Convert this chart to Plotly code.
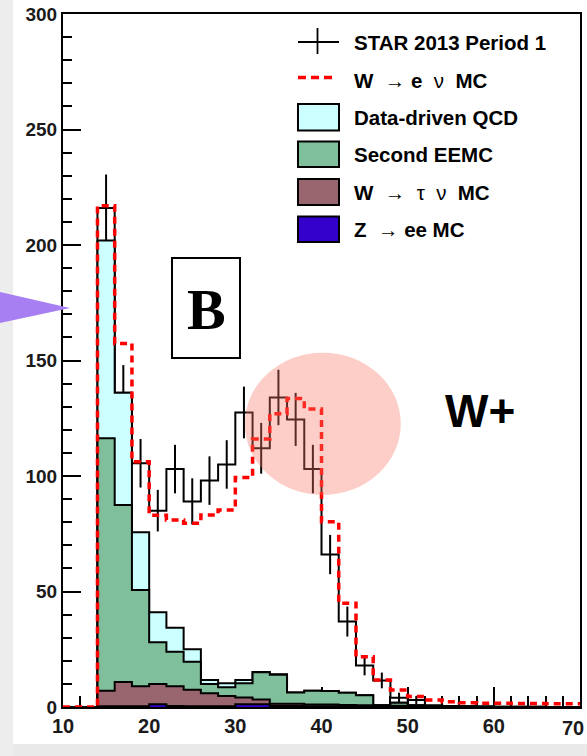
import numpy as np
import plotly.graph_objects as go

# ---------------- data (2 GeV bins from 10 to 70) ----------------
bin_edges = [10, 12, 14, 16, 18, 20, 22, 24, 26, 28, 30, 32, 34, 36, 38, 40,
             42, 44, 46, 48, 50, 52, 54, 56, 58, 60, 62, 64, 66, 68, 70]

star_data = [0, 0, 216, 136, 105.5, 85, 103, 89, 98, 105, 127.5, 112, 134, 124.5, 103,
             66, 37, 18, 11.5, 4, 3, 0, 0, 0, 0, 0, 0, 0, 0, 0]
star_err = [0, 0, 14.5, 12, 10.5, 9, 10.5, 10, 10.5, 10.5, 11.2, 11, 12, 11.5, 10.5,
            8.5, 6.5, 4.3, 3.4, 2.2, 1.8, 0, 0, 0, 0, 0, 0, 0, 0, 0]

wenu_mc = [0, 0, 217, 157.4, 106.2, 83, 81, 79.5, 83.1, 85.3, 99.3, 116, 127, 133.6, 129,
           80.2, 44.9, 21.8, 11.7, 7.4, 4.5, 3.0, 2.3, 1.8, 1.6, 1.6, 1.5, 1.5, 1.4, 1.4]

qcd = [0, 0, 85.7, 48.6, 25.0, 13.0, 10.4, 5.4, 1.7, 1.8, 1.4, 0.2, 0.2, 0, 0,
       0, 0, 0, 0, 0, 0, 0, 0, 0, 0, 0, 0, 0, 0, 0]
eemc = [0, 0, 109.3, 76.6, 41.6, 18.0, 14.9, 12.1, 4.1, 3.7, 6.2, 11.7, 12.6, 4.9, 5.9,
        5.8, 5.3, 4.3, 0.3, 1.3, 0.4, 0.3, 0.2, 0.2, 0.1, 0.1, 0.1, 0.1, 0, 0]
wtau = [0, 0, 6.7, 10.5, 8.7, 8.8, 8.6, 7.2, 5.6, 4.5, 2.9, 2.1, 1.0, 1.0, 0.8,
        0.8, 0.6, 0.5, 0.3, 0.3, 0.2, 0.2, 0.1, 0.1, 0.1, 0, 0, 0, 0, 0]
zee = [0, 0, 0.3, 0.3, 0.3, 1.2, 0.4, 0.3, 0.3, 0.3, 1.2, 1.2, 0.4, 0.4, 0.3,
       0.3, 0.3, 0.3, 0.2, 0.2, 0.2, 0.1, 0.1, 0, 0, 0, 0, 0, 0, 0]

x_tick_vals = [10, 20, 30, 40, 50, 60, 70]
x_tick_text = ["10", "20", "30", "40", "50", "60", ""]   # "70" placed as annotation below
x_last_label = "70"

legend_labels = ["STAR 2013 Period 1", "W → e ν MC", "Data-driven QCD",
                 "Second EEMC", "W → τ ν MC", "Z → ee MC"]

# ---------------- styling ----------------
C_QCD = "#ccffff"
C_EEMC = "#80bf9b"
C_TAU = "#996670"
C_Z = "#3300cc"
C_RED = "#ff0000"
FONT = "Liberation Sans"

edges = np.array(bin_edges, dtype=float)
centers = (edges[:-1] + edges[1:]) / 2


def step_y(vals):
    v = list(vals)
    return v + [v[-1]]


fig = go.Figure()

# data: step line + error bars (drawn first so the stack covers them)
fig.add_trace(go.Scatter(x=edges, y=step_y(star_data), mode="lines",
                         line=dict(color="black", width=2, shape="hv"),
                         showlegend=False, hoverinfo="skip"))
err_x = [c for c, d in zip(centers, star_data) if d > 0]
err_y = [d for d in star_data if d > 0]
err_e = [e for e, d in zip(star_err, star_data) if d > 0]
fig.add_trace(go.Scatter(x=err_x, y=err_y, mode="markers",
                         marker=dict(size=1, color="rgba(0,0,0,0)"),
                         error_y=dict(type="data", array=err_e, visible=True,
                                      color="black", thickness=2, width=0),
                         showlegend=False, hoverinfo="skip"))

# stacked backgrounds (cumulative, drawn from top layer down)
s_z = np.array(zee)
s_tau = s_z + np.array(wtau)
s_eemc = s_tau + np.array(eemc)
s_qcd = s_eemc + np.array(qcd)
for vals, col in [(s_qcd, C_QCD), (s_eemc, C_EEMC), (s_tau, C_TAU), (s_z, C_Z)]:
    fig.add_trace(go.Scatter(x=edges, y=step_y(vals), mode="lines",
                             line=dict(color="black", width=2, shape="hv"),
                             fill="tozeroy", fillcolor=col,
                             showlegend=False, hoverinfo="skip"))

# W -> e nu MC dashed line
fig.add_trace(go.Scatter(x=edges, y=step_y(wenu_mc), mode="lines",
                         line=dict(color=C_RED, width=3.5, shape="hv", dash="7px,5px"),
                         showlegend=False, hoverinfo="skip"))

# ---------------- layout helpers (pixel -> paper) ----------------
PL, PR, PT, PB = 63, 580, 14, 707


def px(x):
    return (x - PL) / (PR - PL)


def py(y):
    return (PB - y) / (PB - PT)


shapes = []
annotations = []

# page shading (slide shadow)
shapes.append(dict(type="rect", xref="paper", yref="paper", x0=px(0), x1=px(13),
                   y0=py(756), y1=py(0), fillcolor="#ededed", line=dict(width=0), layer="below"))
shapes.append(dict(type="rect", xref="paper", yref="paper", x0=px(13), x1=px(587),
                   y0=py(756), y1=py(744), fillcolor="#e9e9e9", line=dict(width=0), layer="below"))

# purple pointer triangle
shapes.append(dict(type="path", xref="paper", yref="paper",
                   path=f"M {px(0)},{py(292)} L {px(70)},{py(308)} L {px(0)},{py(323)} Z",
                   fillcolor="#a77ff2", line=dict(width=0), layer="above"))

# pink highlight ellipse
shapes.append(dict(type="circle", xref="x", yref="y", x0=31.1, x1=49.2, y0=91.8, y1=153.4,
                   fillcolor="rgba(246,118,100,0.36)", line=dict(width=0), layer="above"))

# "B" box
shapes.append(dict(type="rect", xref="paper", yref="paper", x0=px(172), x1=px(240),
                   y0=py(358), y1=py(258), fillcolor="white",
                   line=dict(color="black", width=2), layer="above"))
annotations.append(dict(xref="paper", yref="paper", x=px(206), y=py(309), text="<b>B</b>",
                        showarrow=False, xanchor="center", yanchor="middle",
                        font=dict(family="Liberation Serif", size=58, color="black")))

# "W+" label
annotations.append(dict(xref="paper", yref="paper", x=px(480), y=py(411), text="<b>W+</b>",
                        showarrow=False, xanchor="center", yanchor="middle",
                        font=dict(family=FONT, size=46, color="black")))

# last x tick label kept inside the page
annotations.append(dict(xref="paper", yref="paper", x=px(586), y=py(728), text=x_last_label,
                        showarrow=False, xanchor="right", yanchor="middle",
                        font=dict(family=FONT, size=20, color="#1a1a1a", weight="bold")))

# ---------------- manual legend ----------------
LX0, LX1 = 298, 339
TX = 352
# data cross
shapes.append(dict(type="line", xref="paper", yref="paper", x0=px(LX0), x1=px(LX1),
                   y0=py(42), y1=py(42), line=dict(color="black", width=1.8), layer="above"))
shapes.append(dict(type="line", xref="paper", yref="paper", x0=px(317.5), x1=px(317.5),
                   y0=py(28), y1=py(54), line=dict(color="black", width=1.8), layer="above"))
# red dash
shapes.append(dict(type="line", xref="paper", yref="paper", x0=px(LX0), x1=px(337),
                   y0=py(77.5), y1=py(77.5),
                   line=dict(color=C_RED, width=3.5, dash="8px,5px"), layer="above"))
# filled boxes
box_rows = [(104, 130.5, C_QCD), (141.5, 167, C_EEMC), (179, 205, C_TAU), (216.5, 242, C_Z)]
for y0, y1, col in box_rows:
    shapes.append(dict(type="rect", xref="paper", yref="paper", x0=px(LX0), x1=px(LX1),
                       y0=py(y1), y1=py(y0), fillcolor=col,
                       line=dict(color="black", width=2), layer="above"))

NB = "\u00a0"
legend_texts = [
    "<b>STAR 2013 Period 1</b>",
    f"<b>W</b>{NB}{NB}→{NB}<b>e</b>{NB}{NB}ν{NB}{NB}<b>MC</b>",
    "<b>Data-driven QCD</b>",
    "<b>Second EEMC</b>",
    f"<b>W</b>{NB}{NB}→{NB}{NB}τ{NB}{NB}ν{NB}{NB}<b>MC</b>",
    f"<b>Z</b>{NB}{NB}→{NB}<b>ee MC</b>",
]
legend_ys = [43, 80, 117.5, 154.5, 192, 229.5]
for txt, yy in zip(legend_texts, legend_ys):
    annotations.append(dict(xref="paper", yref="paper", x=px(TX), y=py(yy), text=txt,
                            showarrow=False, xanchor="left", yanchor="middle",
                            font=dict(family=FONT, size=20.5, color="black")))

fig.update_layout(
    width=587, height=756, autosize=False,
    margin=dict(l=PL, r=587 - PR, t=PT, b=756 - PB, pad=0, autoexpand=False),
    paper_bgcolor="white", plot_bgcolor="white",
    showlegend=False,
    shapes=shapes, annotations=annotations,
    xaxis=dict(range=[10, 70], showgrid=False, zeroline=False,
               showline=True, linecolor="black", linewidth=2, mirror=True,
               ticks="inside", ticklen=20, tickwidth=2, tickcolor="black",
               tickmode="array", tickvals=x_tick_vals, ticktext=x_tick_text,
               automargin=False,
               minor=dict(ticks="inside", ticklen=11, tickwidth=2, dtick=2, tick0=10,
                          tickcolor="black", showgrid=False),
               tickfont=dict(family=FONT, size=20, color="#1a1a1a", weight="bold"),
               layer="below traces", fixedrange=True),
    yaxis=dict(range=[0, 300], showgrid=False, zeroline=False,
               showline=True, linecolor="black", linewidth=2, mirror=True,
               ticks="inside", ticklen=18, tickwidth=2, tickcolor="black",
               tick0=0, dtick=50, automargin=False,
               minor=dict(ticks="inside", ticklen=9, tickwidth=2, dtick=10, tick0=0,
                          tickcolor="black", showgrid=False),
               tickfont=dict(family=FONT, size=19, color="#1a1a1a", weight="bold"),
               layer="below traces", fixedrange=True),
)

fig.write_html("out.html", config={"displayModeBar": False},
               post_script="document.body.style.margin='0px';document.body.style.overflow='hidden';")
